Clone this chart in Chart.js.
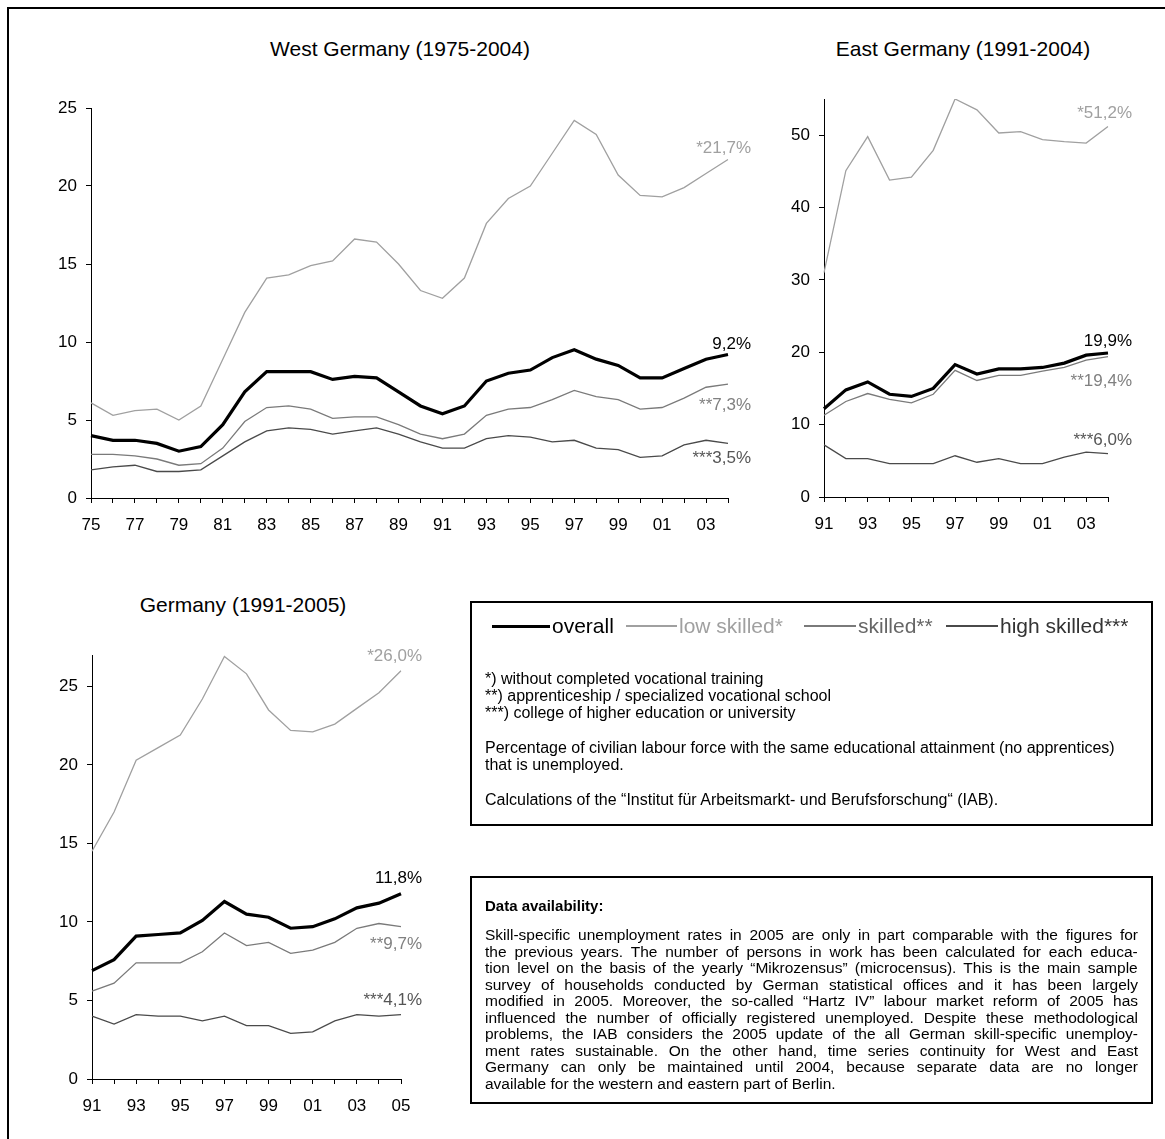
<!DOCTYPE html>
<html>
<head>
<meta charset="utf-8">
<script src="https://cdn.jsdelivr.net/npm/chart.js@4.4.1/dist/chart.umd.min.js"></script>
<style>
  body { margin: 0; background: #fff; width: 1165px; height: 1139px; overflow: hidden; position: relative;
         font-family: "Liberation Sans", Arial, sans-serif; color: #000; }
  #frame { position: absolute; left: 7px; top: 7px; width: 1200px; height: 1200px;
           border-left: 2px solid #000; border-top: 2px solid #000; }
  canvas { position: absolute; }
  .title { position: absolute; font-size: 21px; transform: translate(-50%, -50%); white-space: nowrap; }
  .box { position: absolute; border: 2px solid #000; box-sizing: border-box; }
  .t { position: absolute; white-space: nowrap; transform: translateY(-50%); }
  .ln { position: absolute; }
</style>
</head>
<body>
<div id="frame"></div>

<div class="title" style="left:400px; top:49px">West Germany (1975-2004)</div>
<div class="title" style="left:963px; top:49px">East Germany (1991-2004)</div>
<div class="title" style="left:243px; top:605px">Germany (1991-2005)</div>

<canvas id="west"></canvas>
<canvas id="east"></canvas>
<canvas id="germany"></canvas>

<div class="box" style="left:470px; top:601px; width:683px; height:225px"></div>
<div id="legend"></div>
<div class="box" style="left:470px; top:876px; width:683px; height:228px"></div>
<div id="notes"></div>

<script>
// West Germany 1975-2004
const westYears = ['75','76','77','78','79','80','81','82','83','84','85','86','87','88','89',
                   '90','91','92','93','94','95','96','97','98','99','00','01','02','03','04'];
const westOverall = [4.0,3.7,3.7,3.5,3.0,3.3,4.7,6.8,8.1,8.1,8.1,7.6,7.8,7.7,6.8,
                     5.9,5.4,5.9,7.5,8.0,8.2,9.0,9.5,8.9,8.5,7.7,7.7,8.3,8.9,9.2];
const westLow = [6.1,5.3,5.6,5.7,5.0,5.9,8.9,11.9,14.1,14.3,14.9,15.2,16.6,16.4,15.0,
                 13.3,12.8,14.1,17.6,19.2,20.0,22.1,24.2,23.3,20.7,19.4,19.3,19.9,20.8,21.7];
const westSkilled = [2.8,2.8,2.7,2.5,2.1,2.2,3.2,4.9,5.8,5.9,5.7,5.1,5.2,5.2,4.7,
                     4.1,3.8,4.1,5.3,5.7,5.8,6.3,6.9,6.5,6.3,5.7,5.8,6.4,7.1,7.3];
const westHigh = [1.8,2.0,2.1,1.7,1.7,1.8,2.7,3.6,4.3,4.5,4.4,4.1,4.3,4.5,4.1,
                  3.6,3.2,3.2,3.8,4.0,3.9,3.6,3.7,3.2,3.1,2.6,2.7,3.4,3.7,3.5];

// East Germany 1991-2004
const eastYears = ['91','92','93','94','95','96','97','98','99','00','01','02','03','04'];
const eastOverall = [12.2,14.8,15.9,14.2,13.9,15.0,18.3,17.0,17.7,17.7,17.9,18.5,19.6,19.9];
const eastLow = [31.0,45.1,49.8,43.8,44.2,47.9,55.0,53.5,50.3,50.5,49.4,49.1,48.9,51.2];
const eastSkilled = [11.3,13.2,14.3,13.5,13.0,14.2,17.5,16.1,16.8,16.8,17.4,17.9,18.9,19.4];
const eastHigh = [7.2,5.3,5.3,4.6,4.6,4.6,5.7,4.8,5.3,4.6,4.6,5.5,6.2,6.0];

// Germany 1991-2005
const gerYears = ['91','92','93','94','95','96','97','98','99','00','01','02','03','04','05'];
const gerOverall = [6.9,7.6,9.1,9.2,9.3,10.1,11.3,10.5,10.3,9.6,9.7,10.2,10.9,11.2,11.8];
const gerLow = [14.5,17.0,20.3,21.1,21.9,24.2,26.9,25.8,23.5,22.2,22.1,22.6,23.6,24.6,26.0];
const gerSkilled = [5.6,6.1,7.4,7.4,7.4,8.1,9.3,8.5,8.7,8.0,8.2,8.7,9.6,9.9,9.7];
const gerHigh = [4.0,3.5,4.1,4.0,4.0,3.7,4.0,3.4,3.4,2.9,3.0,3.7,4.1,4.0,4.1];

const FONT = '"Liberation Sans", Arial, sans-serif';
const COL = { overall: '#000', low: '#a0a0a0', skilled: '#7a7a7a', high: '#4a4a4a' };
const LABCOL = { overall: '#000', low: '#a0a0a0', skilled: '#808080', high: '#555' };
const PREFIX = { overall: '', low: '*', skilled: '**', high: '***' };

// writes "*21,7%" etc. next to the last point of each line
const endLabels = {
    id: 'endLabels',
    afterDatasetsDraw(chart) {
        const ctx = chart.ctx;
        chart.data.datasets.forEach((ds, i) => {
            const pts = chart.getDatasetMeta(i).data;
            const p = pts[pts.length - 1];
            const v = ds.data[ds.data.length - 1];
            ctx.save();
            ctx.font = '17px ' + FONT;
            ctx.fillStyle = LABCOL[ds.key];
            ctx.textAlign = 'right';
            ctx.textBaseline = 'middle';
            ctx.fillText(PREFIX[ds.key] + v.toFixed(1).replace('.', ',') + '%', p.x + ds.dx, p.y + ds.dy);
            ctx.restore();
        });
    }
};

function panel(id, area, labels, lines, yMax, yStep, dx, dy) {
    const pad = { l: 60, r: 70, t: 30, b: 50 };
    const c = document.getElementById(id);
    c.width = area.right - area.left + pad.l + pad.r;
    c.height = area.bottom - area.top + pad.t + pad.b;
    c.style.left = (area.left - pad.l) + 'px';
    c.style.top = (area.top - pad.t) + 'px';

    const keys = ['overall', 'low', 'skilled', 'high'];
    const datasets = keys.map(k => ({
        key: k,
        data: lines[k],
        borderColor: COL[k],
        borderWidth: k === 'overall' ? 3.2 : 1.3,
        dx: dx,
        dy: dy[k]
    }));

    return new Chart(c, {
        type: 'line',
        data: { labels: labels, datasets: datasets },
        options: {
            responsive: false,
            animation: false,
            layout: { padding: { top: pad.t, right: pad.r, left: 0, bottom: 0 } },
            elements: { point: { radius: 0 }, line: { tension: 0 } },
            plugins: { legend: { display: false }, tooltip: { enabled: false } },
            scales: {
                x: {
                    offset: false,
                    grid: { drawOnChartArea: false, drawTicks: true, tickLength: 5, color: '#000', offset: false },
                    border: { color: '#000', width: 1 },
                    ticks: {
                        autoSkip: false, maxRotation: 0, padding: 12, color: '#000',
                        font: { size: 17, family: FONT },
                        callback: (v, i) => i % 2 === 0 ? labels[i] : ''
                    },
                    afterFit: s => { s.height = pad.b; }
                },
                y: {
                    min: 0, max: yMax,
                    grid: { drawOnChartArea: false, drawTicks: true, tickLength: 5, color: '#000' },
                    border: { color: '#000', width: 1 },
                    ticks: { stepSize: yStep, padding: 9, color: '#000', font: { size: 17, family: FONT } },
                    afterBuildTicks: s => { s.ticks = s.ticks.filter(t => t.value % yStep === 0); },
                    afterFit: s => { s.width = pad.l; }
                }
            }
        },
        plugins: [endLabels]
    });
}

panel('west', { left: 91, right: 728, top: 108, bottom: 498 }, westYears,
      { overall: westOverall, low: westLow, skilled: westSkilled, high: westHigh },
      25, 5, 23, { overall: -10, low: -11, skilled: 21, high: 15 });

panel('east', { left: 824, right: 1108, top: 99, bottom: 497 }, eastYears,
      { overall: eastOverall, low: eastLow, skilled: eastSkilled, high: eastHigh },
      55, 10, 24, { overall: -12, low: -13, skilled: 25, high: -13 });

panel('germany', { left: 92, right: 401, top: 655, bottom: 1079 }, gerYears,
      { overall: gerOverall, low: gerLow, skilled: gerSkilled, high: gerHigh },
      27, 5, 21, { overall: -15, low: -14, skilled: 18, high: -14 });

// legend row and notes
const legendItems = [
    { text: 'overall', key: 'overall', x0: 492, x1: 550, w: 3 },
    { text: 'low skilled*', key: 'low', x0: 626, x1: 677, w: 1.5 },
    { text: 'skilled**', key: 'skilled', x0: 804, x1: 856, w: 1.5 },
    { text: 'high skilled***', key: 'high', x0: 946, x1: 998, w: 1.5 }
];
const legendTextCol = { overall: '#000', low: '#a0a0a0', skilled: '#666', high: '#333' };
const noteLines = [
    ['*) without completed vocational training', 679],
    ['**)  apprenticeship / specialized vocational school', 696],
    ['***) college of higher education or university', 713],
    ['Percentage of civilian labour force with the same educational attainment (no apprentices)', 748],
    ['that is unemployed.', 765],
    ['Calculations of the \u201cInstitut f\u00fcr Arbeitsmarkt- und Berufsforschung\u201c (IAB).', 800]
];
const availText = [
    'Skill-specific unemployment rates in 2005 are only in part comparable with the figures for',
    'the previous years. The number of persons in work has been calculated for each educa-',
    'tion level on the basis of the yearly \u201cMikrozensus\u201d (microcensus). This is the main sample',
    'survey of households conducted by German statistical offices and it has been largely',
    'modified in 2005. Moreover, the so-called \u201cHartz IV\u201d labour market reform of 2005 has',
    'influenced the number of officially registered unemployed. Despite these methodological',
    'problems, the IAB considers the 2005 update of the all German skill-specific unemploy-',
    'ment rates sustainable. On the other hand, time series continuity for West and East',
    'Germany can only be maintained until 2004, because separate data are no longer',
    'available for the western and eastern part of Berlin.'
];

const lg = document.getElementById('legend');
legendItems.forEach(it => {
    const l = document.createElement('div');
    l.className = 'ln';
    l.style.cssText = `left:${it.x0}px;top:${626 - it.w / 2}px;width:${it.x1 - it.x0}px;height:${it.w}px;background:${COL[it.key]}`;
    lg.appendChild(l);
    const t = document.createElement('div');
    t.className = 't';
    t.style.cssText = `left:${it.x1 + 2}px;top:626px;font-size:21px;color:${legendTextCol[it.key]}`;
    t.textContent = it.text;
    lg.appendChild(t);
});
noteLines.forEach(([s, y]) => {
    const t = document.createElement('div');
    t.className = 't';
    t.style.cssText = `left:485px;top:${y}px;font-size:16px`;
    t.textContent = s;
    lg.appendChild(t);
});

const nt = document.getElementById('notes');
const h = document.createElement('div');
h.className = 't';
h.style.cssText = 'left:485px;top:905px;font-size:15px;font-weight:bold';
h.textContent = 'Data availability:';
nt.appendChild(h);

// justify each given line to the box width with word-spacing
const mctx = document.createElement('canvas').getContext('2d');
mctx.font = '15.5px ' + FONT;
availText.forEach((s, i) => {
    const t = document.createElement('div');
    t.className = 't';
    let ws = 0;
    if (i < availText.length - 1) {
        const spaces = s.split(' ').length - 1;
        ws = (653 - mctx.measureText(s).width) / spaces;
    }
    t.style.cssText = `left:485px;top:${935 + i * 16.5}px;font-size:15.5px;word-spacing:${ws}px`;
    t.textContent = s;
    nt.appendChild(t);
});
</script>
</body>
</html>
